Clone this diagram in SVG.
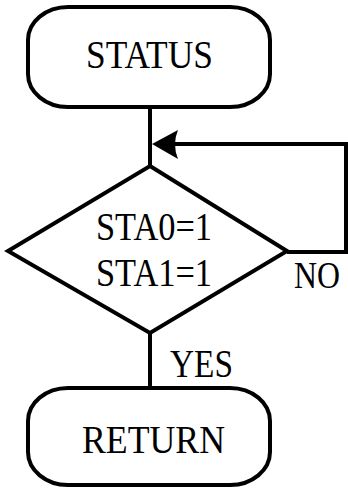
<svg xmlns="http://www.w3.org/2000/svg" width="348" height="488" viewBox="0 0 348 488">
<style>
.shape{fill:#fff;stroke:#000;stroke-width:4}
.line{fill:none;stroke:#000;stroke-width:4}
text{font-family:"Liberation Serif","Times New Roman",serif;font-size:39px;fill:#000}
.small{font-size:37px}
</style>
<rect width="348" height="488" fill="#fff"/>
<g id="connectors">
<line class="line" x1="150" y1="107" x2="150" y2="166"/>
<polyline class="line" points="287,252 346,252 346,144 175,144"/>
<path d="M152,144 L178,130 Q172,144 178,159 Z" fill="#000"/>
<line class="line" x1="150" y1="333" x2="150" y2="388"/>
<text class="small" x="294" y="288" textLength="46" lengthAdjust="spacingAndGlyphs">NO</text>
<text x="170" y="377" textLength="63" lengthAdjust="spacingAndGlyphs">YES</text>
</g>
<g id="status">
<rect class="shape" x="28" y="7" width="242" height="100" rx="40" ry="33"/>
<text x="86" y="68" textLength="127" lengthAdjust="spacingAndGlyphs">STATUS</text>
</g>
<g id="decision">
<polygon class="shape" points="150,166 287,251 150,333 8,251"/>
<text x="96" y="240" textLength="116" lengthAdjust="spacingAndGlyphs">STA0=1</text>
<text x="96" y="286" textLength="116" lengthAdjust="spacingAndGlyphs">STA1=1</text>
</g>
<g id="return">
<rect class="shape" x="28" y="388" width="242" height="97" rx="40" ry="33"/>
<text x="82" y="453" textLength="143" lengthAdjust="spacingAndGlyphs">RETURN</text>
</g>
</svg>
